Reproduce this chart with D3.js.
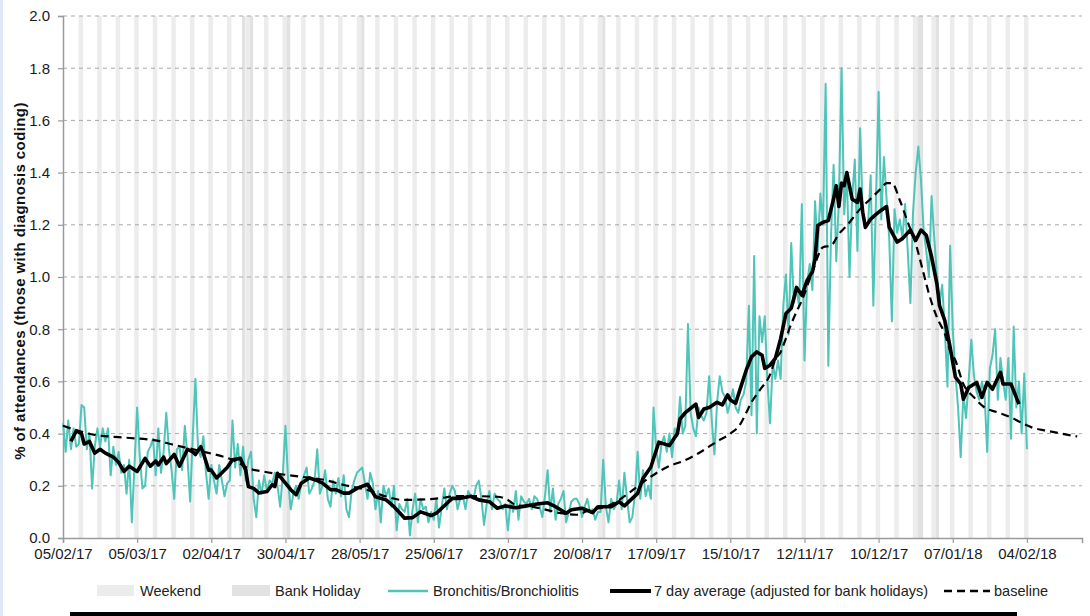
<!DOCTYPE html>
<html><head><meta charset="utf-8">
<script src="https://cdn.jsdelivr.net/npm/d3@7"></script>
<style>body{margin:0;background:#fff}svg{display:block}</style>
</head><body>
<svg id="chart" width="1090" height="616"></svg>
<script>
// ---------- data ----------
const startLabel = "05/02/17";
const axisEndDays = 384.8;
const tickLabels = ["05/02/17","05/03/17","02/04/17","30/04/17","28/05/17","25/06/17","23/07/17","20/08/17","17/09/17","15/10/17","12/11/17","10/12/17","07/01/18","04/02/18"];
const yTicks = [0,0.2,0.4,0.6,0.8,1.0,1.2,1.4,1.6,1.8,2.0];
const bankHolidays = ["14/04/17","17/04/17","01/05/17","29/05/17","28/08/17","25/12/17","26/12/17","01/01/18"];
const legendLabels = ["Weekend","Bank Holiday","Bronchitis/Bronchiolitis","7 day average (adjusted for bank holidays)","baseline"];
const yTitle = "% of attendances (those with diagnosis coding)";

// daily % (one value per day from 05/02/17)
const dailyValues = [
0.44,0.33,0.45,0.34,0.42,0.35,0.36,
0.51,0.50,0.34,0.40,0.19,0.35,0.42,
0.35,0.42,0.37,0.42,0.24,0.35,0.28,
0.33,0.25,0.28,0.17,0.30,0.06,0.28,
0.50,0.31,0.19,0.20,0.33,0.35,0.38,
0.24,0.42,0.25,0.33,0.48,0.34,0.26,
0.15,0.34,0.35,0.26,0.43,0.31,0.14,
0.39,0.61,0.34,0.31,0.39,0.25,0.15,
0.28,0.22,0.17,0.28,0.22,0.16,0.21,
0.22,0.45,0.27,0.36,0.24,0.35,0.22,
0.30,0.33,0.15,0.08,0.22,0.17,0.24,
0.18,0.22,0.21,0.25,0.20,0.12,0.24,
0.43,0.22,0.11,0.17,0.20,0.15,0.21,
0.24,0.27,0.17,0.19,0.22,0.34,0.17,
0.20,0.26,0.15,0.12,0.22,0.17,0.23,
0.16,0.24,0.11,0.08,0.18,0.22,0.25,
0.26,0.27,0.21,0.15,0.25,0.21,0.11,
0.18,0.06,0.20,0.16,0.19,0.12,0.20,
0.03,0.13,0.11,0.10,0.15,0.01,0.11,
0.17,0.06,0.15,0.11,0.12,0.06,0.10,
0.07,0.15,0.04,0.12,0.19,0.11,0.17,
0.20,0.18,0.11,0.15,0.16,0.11,0.18,
0.16,0.15,0.20,0.22,0.15,0.05,0.13,
0.18,0.11,0.17,0.15,0.14,0.11,0.13,
0.03,0.14,0.10,0.18,0.07,0.16,0.14,
0.13,0.15,0.11,0.16,0.15,0.12,0.08,
0.16,0.26,0.10,0.19,0.07,0.13,0.15,
0.18,0.06,0.10,0.14,0.15,0.15,0.13,
0.08,0.12,0.15,0.10,0.11,0.07,0.10,
0.10,0.30,0.12,0.06,0.15,0.11,0.13,
0.22,0.11,0.25,0.15,0.06,0.08,0.17,
0.33,0.15,0.26,0.16,0.20,0.15,0.50,
0.34,0.27,0.36,0.39,0.33,0.40,0.31,
0.42,0.39,0.54,0.40,0.43,0.82,0.48,
0.42,0.39,0.50,0.47,0.45,0.48,0.62,
0.45,0.32,0.52,0.62,0.56,0.54,0.48,
0.52,0.57,0.50,0.48,0.53,0.55,0.60,
0.89,0.47,1.08,0.40,0.85,0.75,0.85,
0.60,0.44,0.67,0.61,0.68,0.61,0.89,
1.01,0.78,1.13,0.90,0.95,0.89,1.28,
0.68,0.98,1.05,0.95,1.29,1.10,1.32,
1.20,1.74,0.66,1.15,1.43,1.06,1.30,
1.80,1.24,1.40,1.00,1.30,1.45,1.10,
1.57,1.25,1.20,1.20,1.39,0.89,1.30,
1.71,1.22,1.46,1.30,1.15,0.83,1.26,
1.17,1.22,1.15,1.28,1.10,0.90,1.25,
1.40,1.50,1.37,1.18,1.10,1.00,1.31,
1.15,1.01,0.90,0.97,0.80,0.58,1.12,
0.80,0.63,0.50,0.31,0.55,0.46,0.60,
0.76,0.62,0.56,0.53,0.60,0.55,0.33,
0.65,0.70,0.80,0.53,0.69,0.60,0.53,
0.69,0.38,0.81,0.50,0.60,0.40,0.63,
0.34];

// 7 day average: [day offset, value]
const avgSeries = [[3,0.37],[5,0.41],[7,0.40],[8,0.36],[10,0.37],[12,0.325],[14,0.34],[16,0.325],[19,0.31],[21,0.29],[23,0.255],[25,0.275],[28,0.255],[31,0.305],[33,0.275],[35,0.295],[36,0.28],[38,0.31],[39,0.285],[42,0.32],[44,0.275],[47,0.34],[49,0.33],[50,0.32],[52,0.35],[53,0.325],[55,0.26],[56,0.26],[58,0.23],[60,0.25],[62,0.27],[64,0.30],[67,0.305],[69,0.26],[70,0.197],[72,0.19],[74,0.172],[77,0.178],[79,0.204],[80,0.197],[81,0.248],[83,0.223],[86,0.185],[88,0.166],[90,0.21],[93,0.23],[96,0.22],[98,0.21],[101,0.185],[103,0.185],[106,0.172],[108,0.172],[111,0.19],[115,0.206],[118,0.158],[122,0.146],[125,0.12],[129,0.076],[132,0.078],[135,0.10],[139,0.086],[141,0.095],[145,0.133],[147,0.152],[150,0.152],[154,0.16],[157,0.146],[161,0.139],[164,0.114],[167,0.123],[171,0.116],[175,0.123],[179,0.13],[183,0.135],[186,0.12],[190,0.095],[192,0.108],[196,0.114],[200,0.097],[202,0.12],[207,0.12],[210,0.139],[212,0.123],[217,0.171],[219,0.228],[222,0.272],[225,0.367],[229,0.354],[232,0.40],[233,0.456],[235,0.48],[239,0.513],[240,0.462],[242,0.494],[244,0.50],[247,0.52],[249,0.51],[251,0.548],[252,0.529],[254,0.516],[256,0.58],[258,0.643],[260,0.694],[262,0.713],[264,0.70],[265,0.65],[267,0.662],[269,0.688],[271,0.764],[273,0.86],[275,0.88],[277,0.96],[279,0.93],[281,0.987],[283,1.02],[284,1.07],[285,1.197],[287,1.21],[289,1.216],[291,1.30],[292,1.35],[293,1.27],[294,1.36],[295,1.35],[296,1.40],[298,1.298],[300,1.286],[301,1.337],[302,1.248],[303,1.19],[305,1.222],[307,1.24],[309,1.256],[311,1.27],[312,1.19],[315,1.134],[317,1.147],[320,1.18],[322,1.14],[324,1.18],[326,1.16],[328,1.077],[330,0.974],[331,0.89],[333,0.833],[335,0.73],[337,0.616],[339,0.59],[340,0.532],[342,0.577],[345,0.596],[347,0.539],[349,0.596],[351,0.57],[354,0.635],[355,0.59],[358,0.59],[359,0.564],[361,0.513]];

// baseline: [day offset, value]
const baselineSeries = [[0,0.43],[12,0.395],[23,0.385],[36,0.372],[41,0.359],[52,0.333],[61,0.31],[64,0.30],[70,0.267],[76,0.254],[88,0.237],[99,0.222],[106,0.203],[115,0.184],[122,0.159],[128,0.146],[140,0.15],[150,0.161],[164,0.158],[168,0.146],[171,0.126],[177,0.12],[183,0.107],[188,0.095],[194,0.089],[199,0.108],[205,0.12],[210,0.146],[216,0.19],[222,0.235],[230,0.28],[233,0.29],[240,0.325],[247,0.37],[252,0.40],[256,0.44],[258,0.48],[260,0.52],[263,0.565],[267,0.626],[269,0.683],[271,0.713],[273,0.765],[275,0.82],[277,0.867],[279,0.91],[283,1.02],[287,1.114],[290,1.12],[293,1.165],[296,1.197],[298,1.222],[301,1.26],[305,1.30],[309,1.34],[311,1.36],[313,1.36],[316,1.294],[319,1.21],[322,1.128],[325,1.013],[327,0.936],[330,0.846],[333,0.782],[335,0.718],[337,0.68],[340,0.59],[344,0.539],[348,0.50],[353,0.481],[358,0.462],[363,0.436],[366,0.423],[372,0.41],[377,0.40],[383,0.389]];

// ---------- drawing ----------
const DAY = 864e5;
const parse = d3.utcParse("%d/%m/%y");
const fmt = d3.utcFormat("%d/%m/%y");
const start = parse(startLabel);
const dayDate = d => new Date(+start + d * DAY);

const svg = d3.select("#chart");
const x = d3.scaleUtc().domain([start, dayDate(axisEndDays)]).range([63, 1082]);
const y = d3.scaleLinear().domain([0, 2]).range([538, 16]);

svg.append("rect").attr("x",0).attr("y",0).attr("width",3).attr("height",616).attr("fill","#dfe9f5");

// weekend bands
const lastDay = dayDate(dailyValues.length);
const sats = d3.utcSaturday.range(start, lastDay);
svg.append("g").selectAll("rect").data(sats).join("rect")
  .attr("x", d => x(new Date(+d - 0.1*DAY)))
  .attr("width", d => x(new Date(+d + 1.6*DAY)) - x(new Date(+d - 0.1*DAY)))
  .attr("y", y(2)).attr("height", y(0) - y(2)).attr("fill", "#ececec");
// bank holidays
svg.append("g").selectAll("rect").data(bankHolidays.map(parse)).join("rect")
  .attr("x", d => x(new Date(+d - 0.4*DAY)))
  .attr("width", d => x(new Date(+d + 0.8*DAY)) - x(new Date(+d - 0.4*DAY)))
  .attr("y", y(2)).attr("height", y(0) - y(2)).attr("fill", "#e2e2e2");

// gridlines
svg.append("g").selectAll("line").data(yTicks.filter(v => v > 0)).join("line")
  .attr("x1", 63).attr("x2", 1082).attr("y1", d => y(d)).attr("y2", d => y(d))
  .attr("stroke", "#a9a9a9").attr("stroke-width", 1).attr("stroke-dasharray", "4,4");

// axes
const yAxis = svg.append("g").attr("transform", "translate(63,0)")
  .call(d3.axisLeft(y).tickValues(yTicks).tickFormat(d3.format(".1f")).tickSize(5).tickPadding(8));
const xAxis = svg.append("g").attr("transform", "translate(0,538)")
  .call(d3.axisBottom(x).tickValues(tickLabels.map(parse)).tickFormat(fmt).tickSize(5).tickPadding(5));
[yAxis, xAxis].forEach(g => {
  g.select(".domain").attr("stroke", "#9a9a9a").attr("stroke-width", 1.5);
  g.selectAll(".tick line").attr("stroke", "#9a9a9a").attr("stroke-width", 1.2);
  g.selectAll("text").attr("font-family", "Arial, 'Liberation Sans', sans-serif").attr("font-size", 15).attr("fill", "#1a1a1a");
});

// y title
svg.append("text").attr("transform", "translate(25,281) rotate(-90)")
  .attr("text-anchor", "middle").attr("font-family", "Arial, 'Liberation Sans', sans-serif")
  .attr("font-weight", "bold").attr("font-size", 15).attr("letter-spacing", 0.4).attr("fill", "#111").text(yTitle);

// series
const daily = dailyValues.map((v, i) => [dayDate(i), v]);
svg.append("path").datum(daily)
  .attr("d", d3.line().x(d => x(d[0])).y(d => y(d[1])))
  .attr("fill", "none").attr("stroke", "#4fc4b8").attr("stroke-width", 2).attr("stroke-linejoin", "round");
svg.append("path").datum(baselineSeries)
  .attr("d", d3.line().x(d => x(dayDate(d[0]))).y(d => y(d[1])).curve(d3.curveMonotoneX))
  .attr("fill", "none").attr("stroke", "#000").attr("stroke-width", 2.2).attr("stroke-dasharray", "8,5");
svg.append("path").datum(avgSeries)
  .attr("d", d3.line().x(d => x(dayDate(d[0]))).y(d => y(d[1])))
  .attr("fill", "none").attr("stroke", "#000").attr("stroke-width", 3.6).attr("stroke-linejoin", "round");

// legend
const lg = svg.append("g").attr("font-family", "Arial, 'Liberation Sans', sans-serif").attr("font-size", 14.5).attr("fill", "#222");
const ly = 591;
lg.append("rect").attr("x", 97).attr("y", ly - 6).attr("width", 37).attr("height", 11).attr("fill", "#ececec");
lg.append("rect").attr("x", 232).attr("y", ly - 6).attr("width", 38).attr("height", 11).attr("fill", "#e2e2e2");
lg.append("line").attr("x1", 388).attr("x2", 428).attr("y1", ly).attr("y2", ly).attr("stroke", "#4fc4b8").attr("stroke-width", 2.5);
lg.append("line").attr("x1", 610).attr("x2", 651).attr("y1", ly).attr("y2", ly).attr("stroke", "#000").attr("stroke-width", 4);
lg.append("line").attr("x1", 944).attr("x2", 990).attr("y1", ly).attr("y2", ly).attr("stroke", "#000").attr("stroke-width", 2.5).attr("stroke-dasharray", "8,5");
const lx = [140, 275, 433, 654, 994];
legendLabels.forEach((t, i) => lg.append("text").attr("x", lx[i]).attr("y", ly + 5).text(t));

// bottom bar
svg.append("rect").attr("x", 70).attr("y", 612).attr("width", 947).attr("height", 4).attr("fill", "#000");
</script>
</body></html>
